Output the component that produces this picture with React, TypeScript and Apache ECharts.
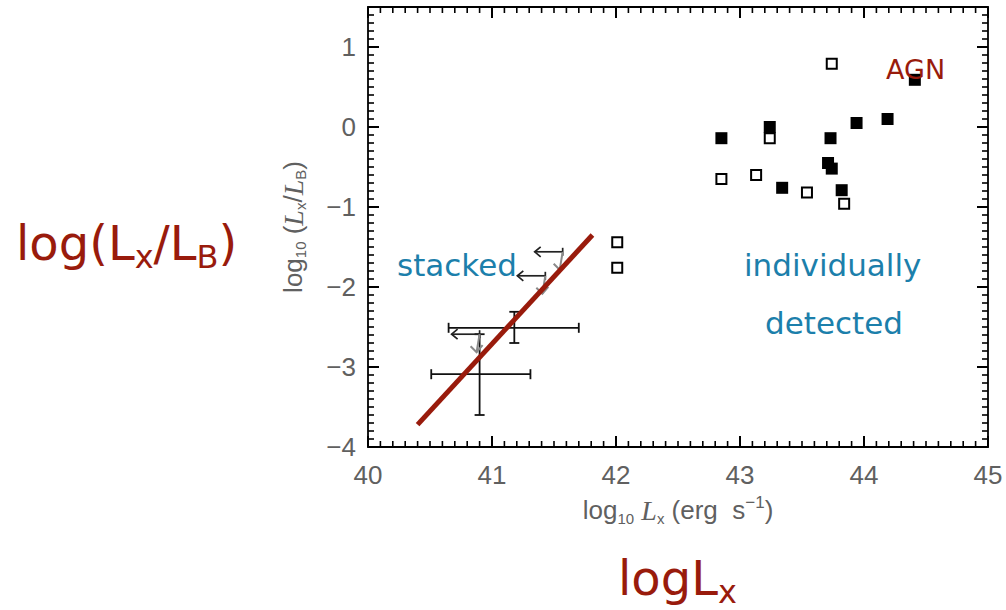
import React, { useEffect, useRef } from "react";
import * as echarts from "echarts";

// ---- data ----
const xRange = [40, 45];
const yRange = [-4, 1.5];

// frame tick values: [value, isMajor] (minor every 0.1, major every 1)
const xTickList: number[][] = [];
for (let k = 0; k <= 50; k++) xTickList.push([Math.round((xRange[0] + k * 0.1) * 10) / 10, k % 10 === 0 ? 1 : 0]);
const yTickList: number[][] = [];
for (let k = 0; k <= 55; k++) yTickList.push([Math.round((yRange[0] + k * 0.1) * 10) / 10, k % 10 === 0 ? 1 : 0]);

// individually detected, open squares [log Lx, log(Lx/LB)]
const openSquares: number[][] = [
  [43.74, 0.79],
  [43.24, -0.14],
  [42.85, -0.65],
  [43.13, -0.6],
  [43.54, -0.82],
  [43.84, -0.96],
  [42.01, -1.44],
  [42.01, -1.76],
];
// individually detected, filled squares
const filledSquares: number[][] = [
  [42.85, -0.14],
  [43.24, 0.0],
  [43.73, -0.14],
  [43.94, 0.05],
  [44.19, 0.1],
  [44.41, 0.59],
  [43.71, -0.45],
  [43.74, -0.52],
  [43.34, -0.76],
  [43.82, -0.79],
];
// stacked detections: [x, y, xLow, xHigh, yLow, yHigh]
const stackedPoints: number[][] = [
  [40.9, -3.09, 40.51, 41.31, -3.6, -2.59],
  [41.18, -2.51, 40.65, 41.7, -2.7, -2.31],
];
// stacked upper limits [x, y]
const upperLimits: number[][] = [
  [41.57, -1.56],
  [41.43, -1.86],
  [40.9, -2.59],
];
// fitted relation (two ends)
const fitLine: number[][] = [
  [40.4, -3.72],
  [41.81, -1.35],
];

const RED = "#991b0c";
const BLUE = "#1c7fab";
const GREY = "#606060";
const SANS = "Liberation Sans";
const VERD = "DejaVu Sans";

const fmtTick = (v: number) =>
  Number.isInteger(v) ? String(v).replace("-", "\u2212") : "";

const axisCommon = {
  axisLine: { show: true, onZero: false, lineStyle: { color: "#000", width: 1.8 } },
  axisTick: { show: false },
  minorTick: { show: false },
  splitLine: { show: false },
};

const nameRich = {
  n: { fontFamily: SANS, fontSize: 26, color: GREY, lineHeight: 32, verticalAlign: "middle" },
  i: { fontFamily: "Liberation Serif", fontStyle: "italic", fontSize: 28, color: GREY, lineHeight: 32, verticalAlign: "middle" },
  s: { fontFamily: SANS, fontSize: 15, color: GREY, lineHeight: 18, verticalAlign: "bottom" },
  p: { fontFamily: SANS, fontSize: 17, color: GREY, lineHeight: 20, verticalAlign: "top" },
};

const yNameRich = {
  n: { fontFamily: SANS, fontSize: 26, color: GREY, lineHeight: 30, verticalAlign: "middle" },
  i: { fontFamily: "Liberation Serif", fontStyle: "italic", fontSize: 28, color: GREY, lineHeight: 30, verticalAlign: "middle" },
  s: { fontFamily: SANS, fontSize: 15, color: GREY, lineHeight: 17, verticalAlign: "bottom" },
};

const bigRich = {
  m: { fontFamily: VERD, fontSize: 48, fill: RED, lineHeight: 60, verticalAlign: "middle" },
  s: { fontFamily: VERD, fontSize: 32, fill: RED, lineHeight: 24, verticalAlign: "bottom" },
};

const textGraphics: any[] = [
  {
    type: "text",
    id: "t-ylab",
    x: 16,
    y: 243,
    style: { text: "{m|log(L}{s|x}{m|/L}{s|B}{m|)}", rich: bigRich, verticalAlign: "middle", fill: RED },
    z: 10,
  },
  {
    type: "text",
    id: "t-xlab",
    x: 618,
    y: 578,
    style: { text: "{m|logL}{s|x}", rich: bigRich, verticalAlign: "middle", fill: RED },
    z: 10,
  },
  {
    type: "text",
    id: "t-stacked",
    x: 397,
    y: 265,
    style: { text: "stacked", fontFamily: VERD, fontSize: 31, fill: BLUE, verticalAlign: "middle" },
    z: 10,
  },
  {
    type: "text",
    id: "t-indiv",
    x: 744,
    y: 265,
    style: { text: "individually", fontFamily: VERD, fontSize: 31, fill: BLUE, verticalAlign: "middle" },
    z: 10,
  },
  {
    type: "text",
    id: "t-detected",
    x: 765,
    y: 323,
    style: { text: "detected", fontFamily: VERD, fontSize: 31, fill: BLUE, verticalAlign: "middle" },
    z: 10,
  },
  {
    type: "text",
    id: "t-agn",
    x: 886,
    y: 69,
    style: { text: "AGN", fontFamily: VERD, fontSize: 27, fill: RED, verticalAlign: "middle" },
    z: 10,
  },
];

export default function App() {
  const ref = useRef<HTMLDivElement>(null);

  useEffect(() => {
    if (!ref.current) return;
    const chart = echarts.init(ref.current, undefined, { renderer: "svg" });

    chart.setOption({
      animation: false,
      backgroundColor: "#fff",
      grid: { left: 368, right: 18, top: 7, bottom: 163 },
      xAxis: [
        {
          type: "value",
          min: xRange[0],
          max: xRange[1],
          interval: 1,
          ...axisCommon,
          axisLabel: { color: GREY, fontFamily: SANS, fontSize: 26, margin: 15, formatter: fmtTick },
          name: "{n|log}{s|10} {i|L}{s|x} {n|(erg  s}{p|\u22121}{n|)}",
          nameLocation: "middle",
          nameGap: 47,
          nameTextStyle: { rich: nameRich, color: GREY, fontFamily: SANS, fontSize: 26 },
        },
        {
          type: "value",
          position: "top",
          min: xRange[0],
          max: xRange[1],
          interval: 1,
          ...axisCommon,
          axisLabel: { show: false },
        },
      ],
      yAxis: [
        {
          type: "value",
          min: yRange[0],
          max: yRange[1],
          interval: 1,
          ...axisCommon,
          axisLabel: { color: GREY, fontFamily: SANS, fontSize: 26, margin: 12, showMaxLabel: false, formatter: fmtTick },
          name: "{n|log}{s|10} {n|(}{i|L}{s|x}{n|/}{i|L}{s|B}{n|)}",
          nameLocation: "middle",
          nameGap: 60,
          nameTextStyle: { rich: yNameRich, color: GREY, fontFamily: SANS, fontSize: 26 },
        },
        {
          type: "value",
          position: "right",
          min: yRange[0],
          max: yRange[1],
          interval: 1,
          ...axisCommon,
          axisLabel: { show: false },
        },
      ],
      series: [
        {
          type: "custom",
          name: "stacked",
          data: stackedPoints,
          encode: { x: [0, 2, 3], y: [1, 4, 5] },
          renderItem: (params: any, api: any) => {
            const c = api.coord([api.value(0), api.value(1)]);
            const xl = api.coord([api.value(2), api.value(1)]);
            const xh = api.coord([api.value(3), api.value(1)]);
            const yl = api.coord([api.value(0), api.value(4)]);
            const yh = api.coord([api.value(0), api.value(5)]);
            const st = { stroke: "#111", lineWidth: 1.8, fill: "none" };
            const cap = 5;
            return {
              type: "group",
              children: [
                { type: "line", shape: { x1: xl[0], y1: c[1], x2: xh[0], y2: c[1] }, style: st },
                { type: "line", shape: { x1: c[0], y1: yl[1], x2: c[0], y2: yh[1] }, style: st },
                { type: "line", shape: { x1: xl[0], y1: c[1] - cap, x2: xl[0], y2: c[1] + cap }, style: st },
                { type: "line", shape: { x1: xh[0], y1: c[1] - cap, x2: xh[0], y2: c[1] + cap }, style: st },
                { type: "line", shape: { x1: c[0] - cap, y1: yl[1], x2: c[0] + cap, y2: yl[1] }, style: st },
                { type: "line", shape: { x1: c[0] - cap, y1: yh[1], x2: c[0] + cap, y2: yh[1] }, style: st },
              ],
            };
          },
          z: 3,
        },
        {
          type: "custom",
          name: "limits",
          data: upperLimits,
          encode: { x: 0, y: 1 },
          renderItem: (params: any, api: any) => {
            const c = api.coord([api.value(0), api.value(1)]);
            const hl = 28;
            const vl = 18;
            const st = { stroke: "#222", lineWidth: 1.7, fill: "none" };
            const st2 = { stroke: "#8a8a8a", lineWidth: 2, fill: "none" };
            return {
              type: "group",
              children: [
                { type: "line", shape: { x1: c[0], y1: c[1], x2: c[0] - hl, y2: c[1] }, style: st },
                { type: "polyline", shape: { points: [[c[0] - hl + 6, c[1] - 5], [c[0] - hl, c[1]], [c[0] - hl + 6, c[1] + 5]] }, style: st },
                { type: "line", shape: { x1: c[0], y1: c[1] - 4, x2: c[0], y2: c[1] + 4 }, style: st },
                { type: "line", shape: { x1: c[0], y1: c[1], x2: c[0] - 3, y2: c[1] + vl }, style: st2 },
                { type: "polyline", shape: { points: [[c[0] - 9, c[1] + vl - 6], [c[0] - 3, c[1] + vl], [c[0] + 3, c[1] + vl - 7]] }, style: st2 },
              ],
            };
          },
          z: 3,
        },
        {
          type: "line",
          name: "fit",
          data: fitLine,
          symbol: "none",
          lineStyle: { color: RED, width: 5, cap: "butt" },
          z: 5,
        },
        {
          type: "scatter",
          name: "open",
          data: openSquares,
          symbol: "rect",
          symbolSize: 10,
          itemStyle: { color: "#fff", borderColor: "#000", borderWidth: 2, opacity: 1 },
          z: 4,
        },
        {
          type: "scatter",
          name: "filled",
          data: filledSquares,
          symbol: "rect",
          symbolSize: 12,
          itemStyle: { color: "#000", opacity: 1 },
          z: 6,
        },
      ],
      graphic: textGraphics,
    });

    // frame ticks on all four sides, placed through the axes' own scales
    const toPx = (x: number, y: number) => chart.convertToPixel({ gridIndex: 0 }, [x, y]) as number[];
    const bl = toPx(xRange[0], yRange[0]);
    const tr = toPx(xRange[1], yRange[1]);
    const tickGraphics: any[] = [];
    xTickList.forEach((t, i) => {
      const major = t[1] === 1;
      const len = major ? 11 : 6;
      const px = toPx(t[0], yRange[0])[0];
      const style = { stroke: "#000", lineWidth: major ? 2 : 1.6 };
      tickGraphics.push({ type: "line", id: "xb" + i, silent: true, z: 100, shape: { x1: px, y1: bl[1], x2: px, y2: bl[1] - len }, style });
      tickGraphics.push({ type: "line", id: "xt" + i, silent: true, z: 100, shape: { x1: px, y1: tr[1], x2: px, y2: tr[1] + len }, style });
    });
    yTickList.forEach((t, i) => {
      const major = t[1] === 1;
      const len = major ? 11 : 6;
      const py = toPx(xRange[0], t[0])[1];
      const style = { stroke: "#000", lineWidth: major ? 2 : 1.6 };
      tickGraphics.push({ type: "line", id: "yl" + i, silent: true, z: 100, shape: { x1: bl[0], y1: py, x2: bl[0] + len, y2: py }, style });
      tickGraphics.push({ type: "line", id: "yr" + i, silent: true, z: 100, shape: { x1: tr[0], y1: py, x2: tr[0] - len, y2: py }, style });
    });
    chart.setOption({ graphic: [...textGraphics, ...tickGraphics] });

    return () => chart.dispose();
  }, []);

  return (
    <div
      ref={ref}
      style={{ position: "fixed", left: 0, top: 0, width: 1006, height: 610, background: "#fff" }}
    />
  );
}
